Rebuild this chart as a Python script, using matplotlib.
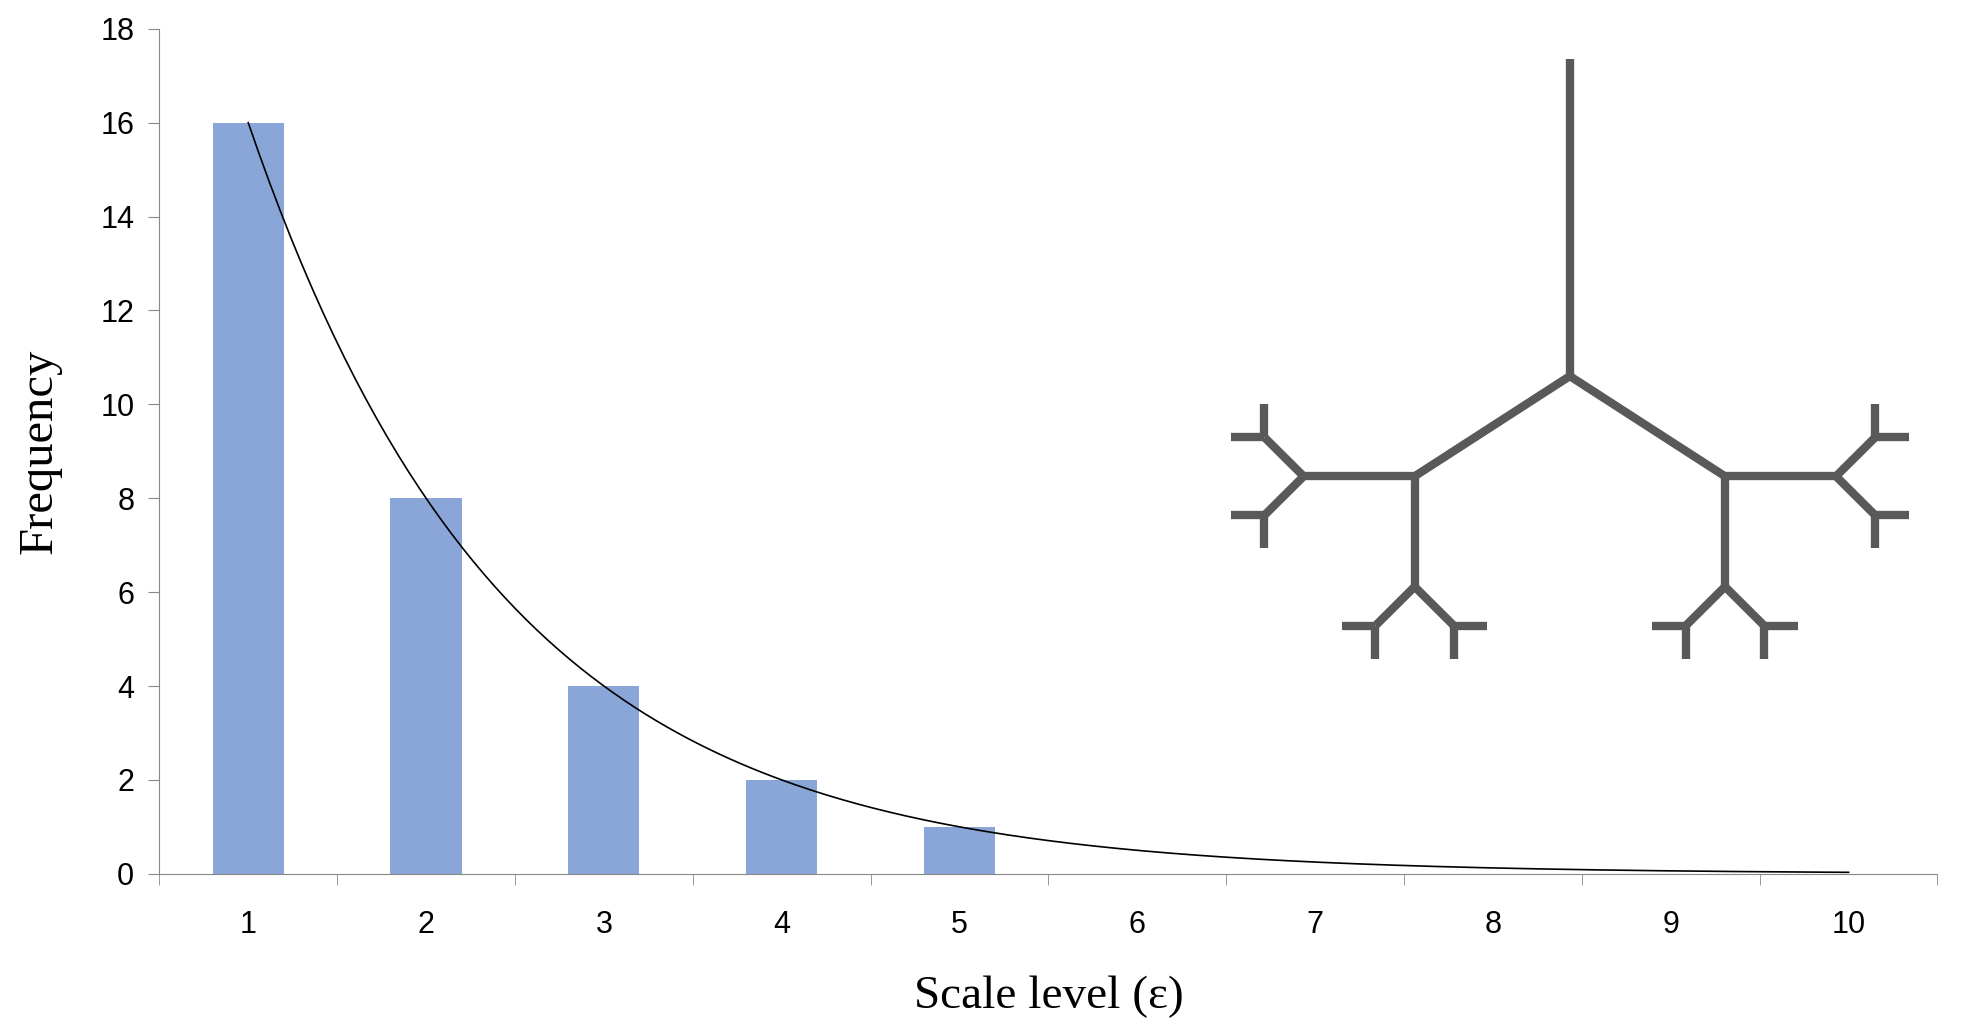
import numpy as np
import matplotlib
matplotlib.use("Agg")
import matplotlib.pyplot as plt

levels = [1, 2, 3, 4, 5, 6, 7, 8, 9, 10]
freq = [16, 8, 4, 2, 1, 0, 0, 0, 0, 0]
fit_a, fit_b = 32.0, 0.5  # fitted curve y = a*b^x

fig = plt.figure(figsize=(19.67, 10.28), dpi=100)
ax = fig.add_axes([0.081, 0.150, 0.904, 0.822])
ax.bar(levels, freq, width=0.4, color="#8aa6d8", zorder=2)
xs = np.linspace(1, 10, 300)
ax.plot(xs, fit_a * fit_b ** xs, color="black", lw=1.2, zorder=3)
ax.set_xlim(0.5, 10.5)
ax.set_ylim(0, 18)
ax.set_yticks(range(0, 19, 2))
ax.set_xticks(levels)
ax.set_xticks(np.arange(0.5, 11, 1), minor=True)
ax.tick_params(axis="x", which="major", length=0, pad=26)
ax.tick_params(axis="x", which="minor", length=8, color="#888888")
ax.tick_params(axis="y", length=8, color="#888888", pad=10)
for s in ["top", "right"]:
    ax.spines[s].set_visible(False)
for s in ["left", "bottom"]:
    ax.spines[s].set_color("#888888")
for lab in ax.get_xticklabels() + ax.get_yticklabels():
    lab.set_fontsize(22)
    lab.set_family("Liberation Sans")
ax.set_xlabel("Scale level (ε)", fontsize=34, family="Liberation Serif", labelpad=26)
ax.set_ylabel("Frequency", fontsize=35, family="Liberation Serif", labelpad=28)

# decorative branching tree (pixel units of a 1560x820 canvas)
tx = fig.add_axes([0, 0, 1, 1])
tx.set_xlim(0, 1560)
tx.set_ylim(820, 0)
tx.axis("off")
tx.patch.set_alpha(0)
col = "#595959"
lw = 6
# per level: (spread toward outer side, spread toward inner side), length ratio
spreads = [(57, 57), (33, 57), (45, 45), (45, 45)]
ratios = [0.58, 0.6, 0.5, 0.6]

def draw(x, y, ang, length, depth, side):
    x2 = x + length * np.cos(np.radians(ang))
    y2 = y - length * np.sin(np.radians(ang))
    tx.plot([x, x2], [y, y2], color=col, lw=lw, solid_capstyle="butt")
    if depth < len(spreads):
        a, b = spreads[depth]
        nl = length * ratios[depth]
        if depth == 0:
            draw(x2, y2, ang - a, nl, depth + 1, 1)
            draw(x2, y2, ang + b, nl, depth + 1, -1)
        else:
            draw(x2, y2, ang - side * a, nl, depth + 1, side)
            draw(x2, y2, ang + side * b, nl, depth + 1, side)

draw(1245, 47, 270, 253, 0, 1)

fig.savefig("out.png", dpi=100)
